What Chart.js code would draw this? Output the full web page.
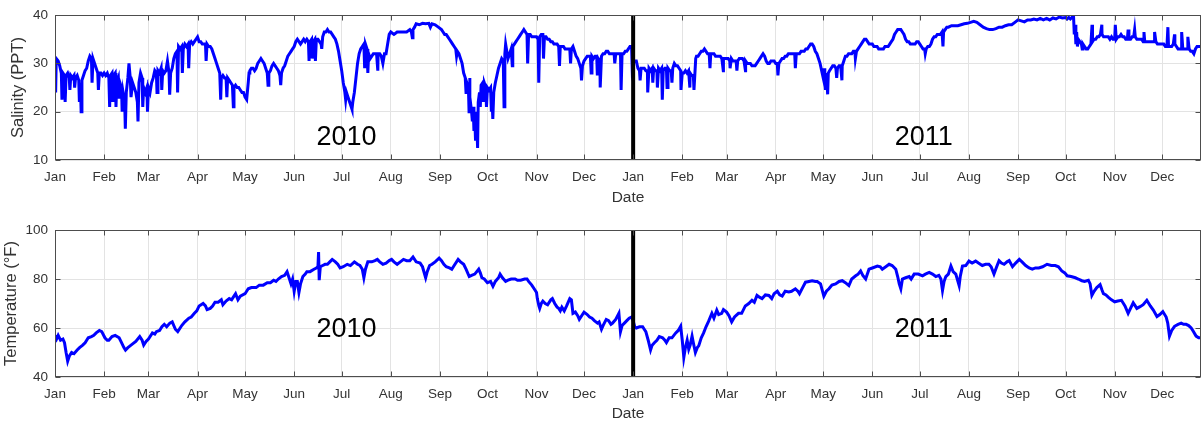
<!DOCTYPE html>
<html>
<head>
<meta charset="utf-8">
<script src="https://cdn.jsdelivr.net/npm/chart.js@4.4.1/dist/chart.umd.min.js"></script>
<style>
html, body { margin: 0; padding: 0; background: #fff; }
.panel { position: absolute; left: 0; width: 1202px; height: 212px; }
</style>
</head>
<body>
<div class="panel" style="top:0"><canvas id="salChart" width="1202" height="212"></canvas></div>
<div class="panel" style="top:212px"><canvas id="tempChart" width="1202" height="212"></canvas></div>
<script>
// x values are days counted from 1 Jan 2010
var monthDays = [0, 31, 59, 90, 120, 151, 181, 212, 243, 273, 304, 334,
	365, 396, 424, 455, 485, 516, 546, 577, 608, 638, 669, 699];
var monthNames = ["Jan", "Feb", "Mar", "Apr", "May", "Jun", "Jul", "Aug", "Sep", "Oct", "Nov", "Dec",
	"Jan", "Feb", "Mar", "Apr", "May", "Jun", "Jul", "Aug", "Sep", "Oct", "Nov", "Dec"];
var lastDay = 723.5;
var newYearDay = 365;

// salinity (PPT) readings, [day, value]
var sal2010 = [[0,31],[0.4,24],[0.8,31],[2,30.5],[3,29.5],[4,28],[4.4,22.5],[5,28],[6,27.5],[6.4,22],[7,27.5],[8,28],[9,27],[9.4,24.5],[10,27.5],[11,27],[12,27.5],[12.4,25],[13,27],[14,27.5],[15,26.5],[15.4,22],[16,26],[16.5,20],[17,26.5],[18,27.5],[19,28.5],[20,29],[21,30.5],[22,31.5],[23,31],[23.4,26],[24,31],[25,30],[26,29],[27,28],[27.4,24.5],[28,28],[29,28],[30,27.5],
	[31,28],[32,27.5],[33,28],[34,27],[34.5,21],[35,27.5],[36,28],[36.5,22],[37,27.5],[38,28],[38.5,21],[39,26],[40,27],[40.5,23],[41,26],[42,25],[42.4,20],[43,24],[44,22],[44.4,16.5],[45,24],[46,27],[46.7,30],[47.5,27],[48,23],[49,26],[50,25],[51,24],[52,22],[52.4,18],[53,26],[54,28],[55,27],[55.4,21],[56,25],[57,24],[58,25],[58.4,20],
	[59,25],[60,24],[61,26],[62,27],[63,28.5],[64,28],[64.4,24],[65,28.5],[66,28],[67,29],[67.4,24.5],[68,28.5],[69,28],[70,28.5],[71,30.5],[72,28],[72.4,23.5],[73,28],[74,29],[75,31],[76,32],[77,32.5],[77.4,24],[78,33.5],[79,33],[80,33.5],[80.4,28],[81,33],[82,34],[83,33.5],[84,34],[84.4,29],[85,34],[86,34.5],[87,34],[88,34.5],[89,35],
	[90,35.5],[91,34.5],[92,34.5],[93,34],[94,34],[95,34],[95.4,30.5],[96,34],[97,33.5],[98,33.5],[99,33],[100,32],[101,31],[102,30],[103,29],[104,28],[104.6,22.5],[105,27],[106,27.5],[107,27],[108,27],[108.5,23],[109,27],[110,26.5],[111,26],[112,25.5],[112.6,21],[113,25],[114,25.5],[115,25],[116,25],[117,24.5],[118,24],[119,24],[120,23],[121,22.5],
	[122,26],[122.5,28],[123,28.5],[124,29],[125,29],[126,28.5],[127,29],[128,30],[129,30.5],[130,31],[131,30.5],[132,30],[133,29],[134,28],[134.5,25.5],[135,28],[136,28.5],[137,29.5],[138,30],[139,29.5],[140,29],[141,28.5],[142,27.5],[142.5,25.5],[143,28],[144,29],[145,29.5],[146,30.5],[147,31.5],[148,32],[149,32.5],[150,33],
	[151,33.5],[152,34.5],[153,35],[154,34.5],[155,34],[156,34.5],[157,35],[158,34.5],[159,35],[160,34.5],[160.4,30.5],[161,34.5],[162,35],[162.4,31],[163,34.5],[164,35],[164.4,30.5],[165,35],[166,35],[167,34.5],[168,34],[168.4,33],[169,35.5],[170,36.5],[171,36.5],[172,37],[173,36.5],[174,36.5],[175,36],[176,35.5],[177,35],[178,34],[179,32.5],[180,30.5],
	[181,28.5],[182,26],[183,24],[183.5,22.5],[184,24],[185,23],[186,22],[187,21],[187.5,20.5],[188,22],[189,24],[190,27],[191,30],[192,32],[193,33],[194,33.5],[195,34],[195.5,29],[196,34],[197,33],[197.5,28],[198,32],[199,31],[200,31.5],[201,32],[202,32],[203,32],[203.8,28.5],[204,32],[205,32],[206,31.5],[207,30],[208,32],[209,32],[210,34],[211,36],
	[212,36.5],[214,36],[216,36.5],[218,36.5],[220,36.5],[222,36.5],[224,37],[225,36.5],[225.6,35.3],[226,37],[227,37.5],[228,38.2],[230,38],[232,38.3],[234,38.2],[236,38.3],[237,37.5],[238,38.2],[240,38],[242,37.5],
	[244,37],[245,36.5],[246,36],[247,36],[248,35.5],[249,35],[250,34.5],[251,34],[252,33.5],[253,33],[253.5,31.5],[254,32.5],[255,32],[256,31],[257,30],[258,28],[259,27],[259.5,24],[260,26],[261,25],[261.4,20],[261.8,27],[262,23],[263,20],[263.5,18],[264,21],[264.5,16],[265,19],[265.5,14],[266,20],[266.8,12.5],[267.2,22],[268,24],[268.5,21],[269,25.5],[270,26],[270.4,22],[271,26],[272,25],[272.4,21],
	[273,25],[274,24.5],[275,25],[275.5,20],[276,22],[276.4,18.5],[277,24],[278,26],[279,27.5],[280,29],[281,30],[282,31],[283,30.5],[283.5,21],[284,32],[284.5,34],[285,33],[286,31],[287,32],[288,33],[288.7,29.5],[289,33.5],[290,34],[291,34.5],[292,35],[293,35.5],[294,36],[295,36.5],[296,37],[297,36.5],[298,36],[298.4,30],[299,36],[300,36],[301,35.5],[302,35.5],[303,35.5],
	[304,35.5],[305,35],[305.4,26],[306,35.5],[307,36],[308,36],[308.4,31],[309,35.5],[310,35.5],[311,35],[312,35],[313,34.5],[314,34.5],[315,34],[316,34],[317,34],[318,33.5],[318.5,29.5],[319,33.5],[320,33.5],[321,33.5],[322,33],[323,33],[324,33],[325,33],[325.5,30],[326,33],[327,33.5],[328,32.5],[329,31.5],[330,31],[331,30],[332,29],[332.4,26.5],[333,29.5],
	[334,30.5],[335,31],[336,31.5],[337,31.5],[338,31.5],[338.5,28],[339,31.5],[340,31],[341,31.5],[342,31.5],[342.4,27.5],[343,31],[344,30.5],[344.2,25],[345,31.5],[346,32],[347,32],[348,32.5],[349,32.5],[350,32],[351,32],[352,32],[353,32],[353.4,30],[354,32],[355,32],[356,32],[357,32],[357.4,24.5],[358,32],[359,32],[360,32.5],[361,32.5],[362,33],[363,33.5],[364,33.5],[364.4,29]];

var sal2011 = [[365,30],[366,30.5],[367,30.5],[368,29],[369,28.5],[369.4,26.5],[370,29],[371,29],[372,29],[373,28.5],[374,28.5],[374.2,24],[375,29],[376,28.5],[377,29],[377.4,26],[378,29],[379,28.5],[380,28.5],[380.3,25],[381,29],[382,28.5],[383,29],[383.4,22.5],[384,28.5],[385,29],[386,29],[386.4,25],[387,29],[388,28.5],[389,28.5],[389.5,26],[390,29],[391,30],[392,29.5],[393,29.5],[394,29],[395,28.5],[395.2,24.5],
	[396,28],[397,28],[398,28.5],[399,28],[400,28.5],[400.8,25],[401,28],[402,27.5],[403,27.5],[403.4,24.5],[404,28],[404.5,31],[405,31.5],[406,31.5],[407,32],[408,32.5],[409,32.5],[410,33],[411,32.5],[412,32],[413,32],[413.5,29],[414,32],[415,32],[416,32],[417,31.5],[418,31.5],[419,31.5],[420,31.5],[421,31],[421.9,28.5],[422,31],[423,31],
	[424,31],[425,31],[426,30.5],[426.2,29],[427,31],[428,30.5],[429,30.5],[430,30.5],[430.5,28.5],[431,30.5],[432,31],[433,31],[434,31],[435,30.5],[435.9,28.5],[436,30.5],[437,30],[438,30],[439,30],[440,29.5],[441,29.5],[442,29.5],[443,30],[444,30.5],[445,31],[446,31.5],[447,32],[448,31.5],[449,30.5],[450,30],[451,30],[452,30.5],[453,30.5],[454,30.5],
	[455,30],[456,30],[456.4,27.5],[457,30],[458,30.5],[459,31],[460,31],[461,31.5],[462,31.5],[463,32],[464,32],[465,32],[466,32],[467,32],[467.4,29],[468,32],[469,32],[470,32],[471,32.5],[472,32.5],[473,32.5],[474,33],[475,33],[476,33.5],[477,34],[478,34],[479,33.5],[480,32.5],[481,32],[482,31],[483,30],[484,28.5],
	[485,27],[485.5,29],[486,26],[486.4,24.5],[487,28],[487.8,23.6],[488.2,28],[489,28.5],[490,29],[491,29.5],[492,29.5],[493,29],[493.5,27],[494,29],[495,29.5],[496,29.5],[496.8,26.5],[497,29.5],[498,30.5],[499,31.5],[500,31.5],[501,32],[502,32],[503,32],[504,32.5],[505,32.5],[505.3,31],[506,32.5],[507,33],[508,33.5],[509,34],[510,34.5],[511,35],[512,35],[513,34.5],[514,34],[515,34],
	[516,34],[517,33.5],[518,33.5],[519,33.5],[520,33],[521,33],[522,33],[523,33],[524,33.5],[525,33.5],[526,33.5],[527,34],[528,34.5],[529,35],[530,36],[531,36.5],[532,37],[533,37],[534,37],[535,36.5],[536,36],[537,35],[538,34.5],[539,34.5],[540,34],[541,34],[542,34],[543,34],[544,34.5],[545,34.5],
	[546,34],[547,33.5],[548,33],[549,33],[549.4,32],[550,33],[551,33.5],[552,33.5],[553,34],[554,35],[555,35.5],[556,35.5],[557,36],[558,36],[559,36],[560,36.5],[560.6,33.5],[561,36.5],[562,37],[563,37.5],[564,37.5],[566,37.8],[568,37.8],[570,37.8],[572,38],[574,38.2],[576,38.3],
	[578,38.5],[580,38.7],[582,38.5],[584,38],[586,37.5],[588,37.2],[590,37],[592,37],[594,37.2],[596,37.5],[598,37.5],[600,37.8],[602,38],[604,38],[606,38.5],
	[608,39],[610,38.8],[612,38.6],[614,39],[616,39],[618,39.2],[620,39],[622,39.3],[624,39],[626,39.3],[628,39],[630,39.4],[632,39.2],[634,39.6],[636,39.4],
	[638,39.5],[639,39.2],[640,39.5],[641,39.2],[642,39.5],[643,40],[643.5,36],[644,38],[644.5,34],[645,36.5],[645.5,33.5],[646,35],[647,34.5],[648,34],[648.5,33],[649,34],[650,33.5],[651,33],[652,33],[653,33.5],[654,34],[654.7,38],[655,34.5],[656,35],[657,35],[658,35.5],[659,35.5],[660,36],[660.9,38],[661,36],[662,35.5],[663,35.5],[664,35.5],[665,35.5],[666,35],[667,35.5],[668,35],
	[669,35],[669.4,38],[670,35],[671,35.5],[672,35.5],[673,36],[674,35.5],[675,35.5],[676,35],[677,35],[677.5,37],[678,35],[679,35],[680,35.5],[681,35.5],[681.6,37],[682,35.5],[683,35],[684,35],[685,35],[686,35],[687,34.5],[687.5,36.5],[688,34.5],[689,34.5],[690,34.5],[691,34.5],[692,34.5],[693,34.5],[694,34.5],[694.2,36.5],[695,34.5],[696,34],[697,34],[698,34],
	[699,34],[700,34],[701,33.5],[702,33.5],[702.6,37.5],[703,33.5],[704,33.5],[705,33.5],[706,34],[706.8,36],[707,34],[708,33.5],[709,33],[710,33],[711,33],[711.3,36.5],[712,33],[713,33],[714,33],[715,33],[715.2,35.5],[716,33],[717,32.5],[718,32.5],[719,32],[720,33],[721,33.5],[722,33.5],[723,33.5],[724,33.5]];

// water temperature (F) readings, [day, value]
var temp2010 = [[0,57],[1,55.5],[2,57],[3.5,55],[5,55.5],[6,54],[7,50],[8,46.5],[9,48.5],[10.5,50],[12,49.5],[14,51],[15.5,52],[17.5,53],[19,54],[21,56],[23,56.5],[24.5,57],[26,58],[28,59],[29.5,58.5],[31.5,56],[33,55],[34,55],[36,56.5],[38,57],[40.5,56],[42,54],[43.5,52],[44.5,51],[46,52],[47,52.5],[49,53.5],[51,54.5],[53.5,56.5],[55,55],[56,53],[57.5,54.5],
	[59,55.5],[61.5,58],[63,57.5],[64,58.5],[66,59],[67.5,60.5],[69,61.5],[70.5,60.5],[72.5,62],[74,62.5],[76,59.5],[77.5,58.5],[79,60],[80,61],[82,62.5],[84.5,64],[86,64.5],[88,66],[89.5,67],
	[91,69],[93.5,70],[95,69],[96,67.5],[98,68],[99.5,69],[101,70.5],[103,70.5],[105,71.5],[106,69.5],[108,71],[110,72],[111.5,71.5],[113,73],[114,74],[115.5,71.5],[117,73],
	[120,74],[122,76],[124,76.5],[127,76.5],[129,77.5],[131.5,77.5],[134,78.5],[136,78.5],[138,79.5],[139.5,79],[141,80],[143,81],[145,81.5],[146.5,83],[147.5,81],[149,78],[150,80],
	[151,75],[152,79],[153,79],[154,74.5],[155,78],[156.5,81],[158,82],[159,83],[161,83],[163.5,84],[165,84.5],[166,85],[166.4,91],[166.8,79.5],[167.5,85],[169,85.5],[170.5,86],[172,86],[173.5,87],[175,88],[177,87],[178.5,86],[180,84.5],
	[182,85],[184.5,86],[186.5,85.5],[189,87],[191,86],[192.5,85.5],[194,84],[195,80.5],[196,84],[197.5,87],[200,87],[202,87.5],[203.5,88],[205,87],[207,86],[209,86.5],[211,87.5],
	[212.5,88],[214,87],[216,86],[218,87],[220,88],[222,87.5],[224,87.5],[226,89],[228,87],[230.5,86.5],[232,85],[234,80.5],[235,83],[236.5,85.5],[238,86],[240,87],[242.5,88.5],
	[244,87.5],[245.5,86],[247,85],[249,84.5],[250.5,84],[252,85.5],[254.5,88],[256,87],[258,86],[259.5,84],[261.5,81],[263,81.5],[265,82],[267.5,84],[268.5,82.5],[269.5,80.5],[271,80],
	[273,78.5],[275,79],[276.5,77],[278,79],[280,80.5],[281,82],[282.5,80.5],[284.5,79],[286,79.5],[288,80],[290.5,80],[292,79.5],[294,79.5],[296.5,80],[298,80],[299,79],[301,77.5],[302.5,76],
	[304,74.5],[304.5,72],[305.5,69],[306,68],[307,70],[308,71],[309.5,70],[311,69.5],[313,71.5],[314,72],[315.5,70],[317,68.5],[318,68],[319,67],[320,68.5],[321.5,67],[323,69],[325,72],[326,71.5],[327,66],[328.5,66.5],[330,65],[331,63.5],[332.5,65],
	[334,66.5],[336,65.5],[337.5,64.5],[339,64],[340.5,63],[342.5,62],[343.5,62.5],[345,59.5],[346,61],[348,63.5],[349.5,63],[351,61.5],[352,62],[354,63.5],[356,66],[357,58.5],[358,61],[359.5,62],[361,63],[362.5,64],[364,64.5]];

var temp2011 = [[365,63],[366,60.5],[367,60],[369,60.5],[371,60.5],[372,59.5],[373,58.5],[374.5,55],[376,51],[377,53],[378.4,54],[380,55],[381.5,56.5],[383.6,56],[385,55],[386,54],[387.7,56],[389.5,56],[391.9,58],[393.5,59],[395,60.7],[396,55],[397,48],[398,52],[399.1,55],[400.1,51.3],[401,53],[402.2,56.7],[403,54],[404.3,50],[405.5,52],[406.4,52.7],[408,56],[409.5,58],[411,60.5],[412.6,62.7],[414.7,66],[416,64],[417.8,67.3],[419,65.5],[420.9,66],[422,67.5],
	[424,66.5],[425.5,65],[427.2,62.5],[429,64.5],[431.5,66],[433.5,66],[435.8,69],[438,70],[440,71.3],[441.5,70.5],[443.2,73.3],[445,72.5],[446.4,72],[448.5,73.5],[450.7,73.3],[452.5,72],[454,74],
	[456,75],[457.5,73.5],[459.1,73],[461,75],[463.3,74.7],[465,75],[467.4,76],[469,75],[470,74],[472,76.5],[473.8,78.7],[476,79],[478,79.3],[480,79],[481.2,79],[483.3,78],
	[485.4,73],[487,75],[488.6,76],[490.5,77.5],[492.8,78],[495,79],[497,79.3],[499,78.5],[501.2,77.3],[503,80],[505.5,81.3],[507,82],[508.6,83.3],[510,81.5],[511.8,80],[513.9,84],
	[516,84.5],[519.2,85.3],[521,85],[522.3,84],[524.5,85],[526.6,86],[528.5,85.5],[530.8,84],[532,81],[533,78],[534,76],[535,80],[537,80.5],[539.3,81],[540.5,80],[542.4,82],[545,82],
	[547.7,81.3],[549.5,82],[551.9,82.7],[554,82],[556.1,81],[558,81.5],[559.3,80],[560.3,75.3],[561.3,79],[562.4,81],[564,82],[565.6,85.3],[567,83],[568.7,82],[570.8,77.3],[571.5,81],[572.9,85.3],[575,85.5],
	[577,87.3],[579,86.5],[581.2,87.3],[583,86.5],[585.4,85.5],[587.5,86],[589.6,86],[591,85],[592.8,82],[594.5,85],[596,87.5],[597.5,86.5],[599.2,86],[601,87],[602.4,87.5],[604.5,85],[606.5,86.5],
	[608.8,88],[610.5,87],[612.8,85.5],[615,84.5],[617,84],[619,84.5],[621.1,84.5],[623.5,85],[626.3,86],[629,85.5],[631.5,85.5],[633.5,85],[635.6,83.3],[637.5,82.5],
	[639,81.3],[641.5,81],[644.2,80.5],[646,80],[648.3,79.3],[650,79],[652.4,79.5],[653.5,78],[654.6,73.3],[656,75],[657.7,76.5],[659.8,77.7],[661,75.5],[661.9,74],[663.5,73.5],[665.1,72.5],[667,71.5],
	[669,70.7],[671,71],[673.3,71.3],[675.5,69],[677.5,66],[679,68],[680.7,70.3],[683,68],[685,68.7],[687,69.5],[689.3,71.3],[691.5,69],[693.4,67.3],[695.7,64.7],[697.5,65.5],
	[699.4,66.7],[701.5,64.5],[702.5,62],[703.6,56.7],[705,59],[706.8,60.7],[709,61.5],[711,62],[712.5,61.5],[714.1,61.5],[715.7,61],[717.3,60],[718.8,58.5],[720.4,56.7],[722,56],[723.8,56]];

Chart.defaults.font.family = '"Liberation Sans", Arial, Helvetica, sans-serif';

function toPoints(list) {
	return list.map(function (p) {
		return { x: p[0], y: p[1] };
	});
}

// box, inward tick marks, the new-year divider and the year labels
const matlabAxes = {
	id: "matlabAxes",
	afterDatasetsDraw(chart, args, opts) {
		const ctx = chart.ctx;
		const a = chart.chartArea;
		const xs = chart.scales.x;
		const ys = chart.scales.y;
		ctx.save();

		const xd = xs.getPixelForValue(opts.divider);
		ctx.strokeStyle = "#000";
		ctx.lineWidth = 4;
		ctx.beginPath();
		ctx.moveTo(xd, a.top);
		ctx.lineTo(xd, a.bottom);
		ctx.stroke();

		ctx.fillStyle = "#000";
		ctx.font = '27px "Liberation Sans", Arial, sans-serif';
		ctx.textAlign = "center";
		ctx.textBaseline = "middle";
		opts.years.forEach(function (yr) {
			ctx.fillText(yr.text, xs.getPixelForValue(yr.x), ys.getPixelForValue(yr.y));
		});

		ctx.strokeStyle = "#4d4d4d";
		ctx.lineWidth = 1;
		const L = Math.round(a.left) + 0.5, R = Math.round(a.right) - 0.5;
		const T = Math.round(a.top) + 0.5, B = Math.round(a.bottom) - 0.5;
		ctx.beginPath();
		xs.ticks.forEach(function (t) {
			const px = Math.round(xs.getPixelForValue(t.value)) + 0.5;
			ctx.moveTo(px, B); ctx.lineTo(px, B - 5);
			ctx.moveTo(px, T); ctx.lineTo(px, T + 5);
		});
		ys.ticks.forEach(function (t) {
			const py = Math.round(ys.getPixelForValue(t.value)) + 0.5;
			ctx.moveTo(L, py); ctx.lineTo(L + 5, py);
			ctx.moveTo(R, py); ctx.lineTo(R - 5, py);
		});
		ctx.stroke();
		ctx.strokeRect(L, T, R - L, B - T);
		ctx.restore();
	},
};

function makeChart(id, series, cfg) {
	const ctx = document.getElementById(id).getContext("2d");
	return new Chart(ctx, {
		type: "line",
		data: {
			datasets: [
				{
					data: toPoints(series),
					borderColor: "#0000ff",
					borderWidth: 3,
					pointRadius: 0,
					tension: 0,
					fill: false,
				},
			],
		},
		options: {
			responsive: false,
			animation: false,
			layout: { padding: { top: cfg.padTop, right: 1, left: 0, bottom: 0 } },
			plugins: {
				legend: { display: false },
				tooltip: { enabled: false },
				matlabAxes: { divider: newYearDay, years: cfg.years },
			},
			scales: {
				x: {
					type: "linear",
					min: 0,
					max: lastDay,
					afterBuildTicks: function (s) {
						s.ticks = monthDays.map(function (v) {
							return { value: v };
						});
					},
					afterFit: function (s) {
						s.height = cfg.xHeight;
					},
					ticks: {
						autoSkip: false,
						maxRotation: 0,
						padding: 9,
						color: "#333",
						font: { size: 13.5 },
						callback: function (v, i) {
							return monthNames[i];
						},
					},
					grid: { color: "#e3e3e3", drawTicks: false },
					border: { display: false },
					title: {
						display: true,
						text: "Date",
						color: "#333",
						font: { size: 15.5 },
						padding: { top: 0, bottom: cfg.datePad },
					},
				},
				y: {
					min: cfg.yMin,
					max: cfg.yMax,
					afterFit: function (s) {
						s.width = 55;
					},
					ticks: { stepSize: cfg.yStep, padding: 7, color: "#333", font: { size: 13.5 } },
					grid: { color: "#e3e3e3", drawTicks: false },
					border: { display: false },
					title: {
						display: true,
						text: cfg.yTitle,
						color: "#333",
						font: { size: 16.5 },
						padding: { top: cfg.yTitlePad, bottom: 0 },
					},
				},
			},
		},
		plugins: [matlabAxes],
	});
}

makeChart("salChart", sal2010.concat(sal2011), {
	padTop: 13, xHeight: 52, datePad: 5, yMin: 10, yMax: 40, yStep: 10,
	yTitle: "Salinity (PPT)", yTitlePad: 9,
	years: [{ text: "2010", x: 184, y: 14.6 }, { text: "2011", x: 548.5, y: 14.6 }],
});

makeChart("tempChart", temp2010.concat(temp2011), {
	padTop: 18, xHeight: 47, datePad: 1, yMin: 40, yMax: 100, yStep: 20,
	yTitle: "Temperature (°F)", yTitlePad: 2,
	years: [{ text: "2010", x: 184, y: 59.2 }, { text: "2011", x: 548.5, y: 59.2 }],
});
</script>
</body>
</html>
